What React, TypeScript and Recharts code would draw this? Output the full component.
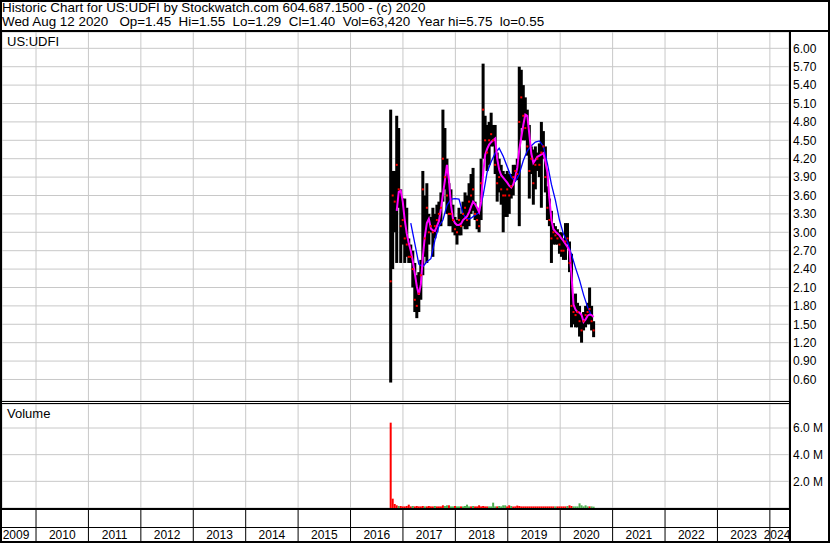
import {
  Bar,
  CartesianGrid,
  Cell,
  ComposedChart,
  Line,
  Scatter,
  XAxis,
  YAxis,
} from "recharts";

const TITLE = "Historic Chart for US:UDFI by Stockwatch.com 604.687.1500 - (c) 2020";
const QUOTE =
  "Wed Aug 12 2020   Op=1.45  Hi=1.55  Lo=1.29  Cl=1.40  Vol=63,420  Year hi=5.75  lo=0.55";
const SYMBOL = "US:UDFI";

// one bar = two weeks of trading
const FIRST_BAR = "2016-10-07";
const BAR_DAYS = 14;

const HIGHS = [
  5.0, 4.0, 4.0, 4.9, 4.7, 3.7, 3.55, 3.55, 3.4, 2.9,
  2.8, 2.7, 2.5, 2.3, 2.35, 2.55, 4.0, 3.6, 3.8, 3.3,
  3.25, 3.4, 3.3, 3.45, 3.5, 3.65, 5.0, 4.7, 4.2, 3.8,
  3.7, 3.45, 3.25, 3.2, 3.4, 3.3, 3.5, 3.65, 3.6, 3.8,
  3.95, 4.05, 3.5, 3.4, 3.35, 4.2, 5.75, 4.9, 4.75, 4.8,
  4.95, 4.75, 4.75, 4.3, 4.2, 4.1, 4.0, 3.95, 4.0, 3.95,
  3.95, 4.1, 4.1, 4.2, 5.7, 5.65, 5.4, 5.2, 5.0, 4.75,
  4.4, 4.35, 4.4, 4.3, 4.45, 4.8, 4.65, 4.4, 3.75, 3.55,
  3.35, 3.15, 3.1, 3.05, 3.0, 3.0, 2.9, 3.15, 3.15, 2.85,
  2.65, 1.85, 2.0, 1.85, 1.8, 1.65, 1.7, 1.8, 1.85, 2.1,
  1.8, 1.55,
];

const LOWS = [
  0.55, 2.4, 3.0, 2.5, 3.4, 2.5, 2.8, 2.5, 2.6, 2.5,
  2.5, 2.1, 1.7, 1.6, 1.7, 1.9, 2.3, 2.6, 2.5, 2.8,
  3.0, 2.6, 2.9, 3.0, 3.1, 3.1, 3.5, 3.7, 3.3, 3.1,
  3.1, 3.0, 2.95, 2.8, 2.95, 2.95, 3.1, 3.05, 3.05, 3.1,
  3.3, 3.35, 3.2, 3.05, 3.0, 3.2, 4.2, 4.2, 4.0, 4.1,
  4.4, 4.4, 3.95, 3.5, 3.65, 3.45, 3.0, 3.25, 3.25, 3.3,
  3.55, 3.6, 3.85, 3.85, 3.1, 4.7, 4.5, 4.5, 4.25, 3.55,
  3.95, 3.45, 3.7, 4.0, 3.9, 3.4, 4.2, 3.65, 3.2, 3.1,
  2.5, 2.8, 2.8, 2.8, 2.65, 2.6, 2.55, 2.55, 2.8, 2.35,
  1.45, 1.5, 1.45, 1.45, 1.3, 1.2, 1.4, 1.45, 1.5, 1.5,
  1.4, 1.29,
];

const CLOSES = [
  2.2, 3.6, 3.5, 4.1, 3.7, 3.1, 3.2, 2.9, 2.8, 2.6,
  2.6, 2.4, 1.9, 1.8, 2.0, 2.3, 3.7, 2.9, 3.4, 3.0,
  3.1, 3.0, 3.1, 3.2, 3.3, 3.4, 4.2, 3.9, 3.6, 3.3,
  3.3, 3.2, 3.05, 3.0, 3.2, 3.1, 3.3, 3.4, 3.2, 3.5,
  3.6, 3.7, 3.3, 3.2, 3.1, 3.8, 5.0, 4.5, 4.3, 4.5,
  4.6, 4.5, 4.1, 3.8, 3.9, 3.7, 3.6, 3.6, 3.7, 3.6,
  3.75, 3.9, 4.0, 3.95, 4.8, 5.2, 4.9, 4.7, 4.4, 4.0,
  4.2, 3.8, 4.1, 4.2, 4.1, 4.3, 4.4, 3.9, 3.4, 3.2,
  2.9, 3.0, 2.95, 2.9, 2.8, 2.7, 2.7, 2.85, 2.9, 2.5,
  1.8, 1.7, 1.65, 1.7, 1.55, 1.4, 1.55, 1.65, 1.7, 1.75,
  1.55, 1.4,
];

// short moving average (magenta), one value per bar from bar 3
const FAST_MA_FROM = 3;
const FAST_MA = [
  3.35, 3.66, 3.68, 3.5, 3.2, 2.98, 2.82, 2.7, 2.53, 2.33,
  2.12, 1.98, 2.15, 2.6, 2.93, 3.15, 3.22, 3.06, 3.03, 3.02,
  3.1, 3.18, 3.38, 3.62, 3.85, 4.1, 3.85, 3.45, 3.22, 3.15,
  3.12, 3.12, 3.14, 3.2, 3.23, 3.26, 3.33, 3.42, 3.5, 3.46,
  3.4, 3.33, 3.5, 3.95, 4.26, 4.36, 4.43, 4.47, 4.5, 4.53,
  4.2, 4.02, 3.93, 3.89, 3.85, 3.81, 3.76, 3.73, 3.78, 3.9,
  4.05, 4.35, 4.55, 4.75, 4.92, 4.9, 4.6, 4.28, 4.13, 4.18,
  4.23, 4.25, 4.27, 4.29, 4.15, 3.98, 3.55, 3.2, 3.05, 3.01,
  2.98, 2.95, 2.9, 2.86, 2.81, 2.76, 2.7, 2.3, 1.82, 1.74,
  1.7, 1.69, 1.65, 1.54, 1.58, 1.64, 1.66, 1.65, 1.62,
];

// long moving average (blue), every second bar from bar 10
const SLOW_MA_FROM = 10;
const SLOW_MA = [
  3.15, 2.82, 2.48, 2.44, 2.52, 2.57, 2.87, 3.1, 3.2, 3.44,
  3.54, 3.55, 3.54, 3.3, 3.21, 3.23, 3.28, 3.32, 3.6, 3.98,
  4.15, 4.29, 4.37, 4.24, 4.07, 3.9, 3.83, 3.95, 4.17, 4.33,
  4.41, 4.47, 4.49, 4.4, 4.12, 3.78, 3.52, 3.2, 2.97, 2.84,
  2.64, 2.42, 2.22, 1.98, 1.78, 1.64,
];

// volume in millions
const VOLUMES = [
  6.4, 0.7, 0.3, 0.2, 0.15, 0.15, 0.12, 0.12, 0.15, 0.25,
  0.12, 0.15, 0.12, 0.15, 0.12, 0.12, 0.15, 0.12, 0.12, 0.15,
  0.12, 0.12, 0.15, 0.12, 0.12, 0.12, 0.2, 0.15, 0.2, 0.2,
  0.12, 0.12, 0.15, 0.12, 0.12, 0.12, 0.12, 0.15, 0.25, 0.12,
  0.12, 0.15, 0.12, 0.12, 0.2, 0.12, 0.15, 0.12, 0.12, 0.12,
  0.12, 0.4, 0.12, 0.12, 0.15, 0.12, 0.2, 0.2, 0.12, 0.2,
  0.15, 0.12, 0.12, 0.18, 0.15, 0.12, 0.12, 0.12, 0.12, 0.12,
  0.12, 0.12, 0.12, 0.12, 0.12, 0.12, 0.12, 0.12, 0.12, 0.12,
  0.12, 0.12, 0.12, 0.12, 0.12, 0.12, 0.12, 0.12, 0.15, 0.2,
  0.15, 0.12, 0.12, 0.12, 0.35, 0.2, 0.12, 0.2, 0.12, 0.12,
  0.12, 0.1,
];
// r = down bar, g = up bar
const VOL_COLORS =
  "rrrrgrrrrr" + "rgrrrrrgrr" + "rrgrrrrggr" + "ggrggrgggg" + "rgrrrrrrrg" +
  "gggrggggrr" + "grrrrrrrrr" + "rrrrrrrrrr" + "rrgrrrrrgr" + "rggggggggr" + "gg";

const YEAR_TICKS = [2010, 2011, 2012, 2013, 2014, 2015, 2016, 2017, 2018, 2019, 2020, 2021, 2022, 2023, 2024];
const PRICE_TICKS = [0.6, 0.9, 1.2, 1.5, 1.8, 2.1, 2.4, 2.7, 3.0, 3.3, 3.6, 3.9, 4.2, 4.5, 4.8, 5.1, 5.4, 5.7, 6.0];
const VOLUME_TICKS = [2, 4, 6];

const X_DOMAIN: [number, number] = [2009.351, 2024.365];
const PRICE_DOMAIN: [number, number] = [0.249, 6.266];
const VOLUME_DOMAIN: [number, number] = [0, 7.8];

const FONT = "Arial, 'Liberation Sans', sans-serif";
const GRID = "#c8c8c8";
const CHART_W = 828;
const AXIS_W = 41;
const PLOT_W = CHART_W - AXIS_W;
const HALF_YEAR = PLOT_W / (X_DOMAIN[1] - X_DOMAIN[0]) / 2;

const DAY_MS = 86400000;
const toYear = (ms: number) => 1970 + ms / (365.2425 * DAY_MS);
const firstMs = Date.parse(FIRST_BAR);
const barTime = (i: number) => toYear(firstMs + i * BAR_DAYS * DAY_MS);

const bars = HIGHS.map((hi, i) => ({
  t: barTime(i),
  range: [LOWS[i], hi],
  close: CLOSES[i],
  vol: VOLUMES[i],
}));
const fastLine = FAST_MA.map((v, k) => ({ t: barTime(FAST_MA_FROM + k), v }));
const slowLine = SLOW_MA.map((v, k) => ({ t: barTime(SLOW_MA_FROM + 2 * k), v }));

const tickText = { fill: "#000", fontSize: 12, fontFamily: FONT };

// separator at each year boundary, label centred in the year to its left
function YearTick(props: any) {
  const { x, y, payload } = props;
  const year = payload.value as number;
  const last = year === YEAR_TICKS[YEAR_TICKS.length - 1];
  return (
    <g>
      <line x1={x} x2={x} y1={y + 1} y2={y + 33} stroke="#000" />
      <text x={Math.max(x - HALF_YEAR, 14)} y={y + 31} textAnchor="middle" {...tickText}>
        {year - 1}
      </text>
      {last && (
        <text x={Math.min(x + HALF_YEAR, PLOT_W - 12)} y={y + 31} textAnchor="middle" {...tickText}>
          {year}
        </text>
      )}
    </g>
  );
}

// high-low bar, a bit wider than the slot so neighbours join up
function RangeBar(props: any) {
  const { x, y, width, height } = props;
  if (height == null || Number.isNaN(height)) return null;
  return <rect x={x + width / 2 - 1.5} y={y} width={3} height={Math.max(height, 1)} fill="#000" />;
}

function CloseMark(props: any) {
  const { cx, cy } = props;
  return <rect x={cx - 1} y={cy - 1} width={2} height={2} fill="#ff0000" />;
}

const line = (style: React.CSSProperties) => (
  <div style={{ position: "absolute", background: "#000", ...style }} />
);

export default function App() {
  return (
    <div
      style={{
        position: "absolute",
        left: 0,
        top: 0,
        width: 830,
        height: 543,
        background: "#fff",
        fontFamily: FONT,
        overflow: "hidden",
      }}
    >
      {/* price panel */}
      <div style={{ position: "absolute", left: 2, top: 32 }}>
        <ComposedChart
          width={CHART_W}
          height={369}
          data={bars}
          margin={{ top: 0, right: 0, bottom: 0, left: 0 }}
        >
          <CartesianGrid stroke={GRID} />
          <XAxis
            type="number"
            dataKey="t"
            domain={X_DOMAIN}
            ticks={YEAR_TICKS}
            allowDataOverflow
            hide
          />
          <YAxis
            orientation="right"
            width={AXIS_W}
            domain={PRICE_DOMAIN}
            ticks={PRICE_TICKS}
            allowDataOverflow
            tickLine={false}
            axisLine={false}
            tickSize={0}
            tickMargin={4}
            interval={0}
            tick={tickText}
            tickFormatter={(v: number) => v.toFixed(2)}
          />
          <Bar dataKey="range" barSize={2} shape={RangeBar} isAnimationActive={false} />
          <Line
            data={slowLine}
            dataKey="v"
            stroke="#0000ff"
            strokeWidth={1.3}
            dot={false}
            isAnimationActive={false}
          />
          <Line
            data={fastLine}
            dataKey="v"
            stroke="#ff00ff"
            strokeWidth={2}
            dot={false}
            isAnimationActive={false}
          />
          <Scatter dataKey="close" shape={CloseMark} isAnimationActive={false} />
        </ComposedChart>
      </div>

      {/* volume panel + year axis */}
      <div style={{ position: "absolute", left: 2, top: 404 }}>
        <ComposedChart
          width={CHART_W}
          height={139}
          data={bars}
          margin={{ top: 0, right: 0, bottom: 0, left: 0 }}
        >
          <CartesianGrid stroke={GRID} />
          <XAxis
            type="number"
            dataKey="t"
            domain={X_DOMAIN}
            ticks={YEAR_TICKS}
            allowDataOverflow
            height={35}
            interval={0}
            tickLine={false}
            tickSize={0}
            tickMargin={0}
            axisLine={false}
            tick={(p: any) => <YearTick {...p} />}
          />
          <YAxis
            orientation="right"
            width={AXIS_W}
            domain={VOLUME_DOMAIN}
            ticks={VOLUME_TICKS}
            allowDataOverflow
            tickLine={false}
            axisLine={false}
            tickSize={0}
            tickMargin={4}
            interval={0}
            tick={tickText}
            tickFormatter={(v: number) => `${v.toFixed(1)} M`}
          />
          <Bar dataKey="vol" barSize={2} isAnimationActive={false}>
            {bars.map((_, i) => (
              <Cell key={i} fill={VOL_COLORS[i] === "g" ? "#4caf50" : "#ff0000"} />
            ))}
          </Bar>
        </ComposedChart>
      </div>

      {/* header */}
      <div
        style={{
          position: "absolute",
          left: 2,
          top: 1,
          fontSize: 13.4,
          lineHeight: "14px",
          whiteSpace: "pre",
        }}
      >
        {TITLE}
      </div>
      <div
        style={{
          position: "absolute",
          left: 2,
          top: 15,
          fontSize: 13.4,
          lineHeight: "14px",
          whiteSpace: "pre",
        }}
      >
        {QUOTE}
      </div>
      <div style={{ position: "absolute", left: 7, top: 34, fontSize: 13, lineHeight: "15px" }}>{SYMBOL}</div>
      <div style={{ position: "absolute", left: 7, top: 406, fontSize: 13, lineHeight: "15px" }}>Volume</div>

      {/* frame */}
      {line({ left: 0, top: 0, width: 830, height: 2 })}
      {line({ left: 0, top: 0, width: 2, height: 543 })}
      {line({ left: 828, top: 0, width: 2, height: 543 })}
      {line({ left: 0, top: 541, width: 830, height: 2 })}
      {line({ left: 0, top: 30, width: 830, height: 2 })}
      {line({ left: 789, top: 30, width: 2, height: 513 })}
      {line({ left: 0, top: 401, width: 790, height: 1 })}
      {line({ left: 0, top: 403, width: 790, height: 1 })}
      {line({ left: 0, top: 508, width: 790, height: 2 })}
      {line({ left: 0, top: 527, width: 790, height: 1 })}
    </div>
  );
}
